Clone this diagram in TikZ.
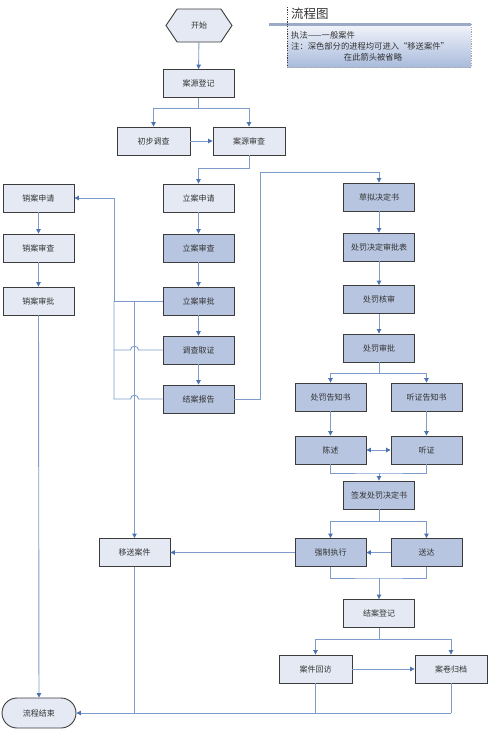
\documentclass[tikz,border=0pt]{standalone}
\usepackage{fontspec}
\setmainfont{Noto Sans CJK SC}
\usetikzlibrary{arrows.meta,shapes.symbols,shapes.misc}
\definecolor{lightfill}{HTML}{E4E9F4}
\definecolor{darkfill}{HTML}{B7C5E0}
\definecolor{linec}{HTML}{7D9BCB}
\definecolor{arrc}{HTML}{4C72B0}
\definecolor{borderc}{HTML}{3C3C3C}
\definecolor{txtc}{HTML}{333333}
\definecolor{gradtop}{HTML}{F2F5FB}
\definecolor{gradbot}{HTML}{A9BBDC}
\definecolor{barc}{HTML}{9CAAC8}
\begin{document}
\begin{tikzpicture}[x=1pt,y=-1pt,
  base/.style={draw=borderc,line width=0.9pt,text=txtc,font=\fontsize{8}{9}\selectfont,
    minimum width=71pt,minimum height=28pt,inner sep=1pt},
  lightbox/.style={base,rectangle,fill=lightfill},
  darkbox/.style={base,rectangle,fill=darkfill},
  conn/.style={draw=linec,line width=0.9pt},
  arr/.style={conn,-{Triangle[width=4.5pt,length=4.5pt,color=arrc]}},
  darr/.style={conn,{Triangle[width=4.5pt,length=4.5pt,color=arrc]}-{Triangle[width=4.5pt,length=4.5pt,color=arrc]}},
  note/.style={text=txtc,font=\fontsize{8.3}{9}\selectfont,inner sep=0pt}
]
\useasboundingbox (0,0) rectangle (490,732);
% title block
\shade[top color=gradtop,bottom color=gradbot] (287,24) rectangle (471,67);
\draw[gray!70,dash pattern=on 1.2pt off 1.2pt,line width=0.7pt] (287,67) -- (471,67) -- (471,24);
\draw[draw=barc,line width=3pt] (269,24) -- (471,24);
\draw[borderc,dash pattern=on 1.2pt off 1.2pt,line width=0.8pt] (287,7) -- (287,67);
\node[anchor=west,text=txtc,font=\fontsize{12.5}{13}\selectfont,inner sep=0pt] (title) at (291,14) {流程图};
\node[note,anchor=west] (n1) at (291,35) {执法——一般案件};
\node[note,anchor=west] (n2) at (291,46.5) {注：深色部分的进程均可进入“移送案件”};
\node[note] (n3) at (373,57.5) {在此箭头被省略};

% nodes
\node[base,signal,signal to=west and east,signal pointer angle=112,fill=lightfill,minimum width=66pt,minimum height=33pt] (start) at (199,25.5) {开始};
\node[lightbox] (ay) at (198.5,83.5) {案源登记};
\node[lightbox,minimum width=73pt] (cb) at (153.5,141) {初步调查};
\node[lightbox,minimum width=72pt] (as) at (249,141) {案源审查};
\node[lightbox] (la1) at (198.5,198) {立案申请};
\node[darkbox] (la2) at (198.5,248) {立案审查};
\node[darkbox] (la3) at (198.5,301) {立案审批};
\node[darkbox] (dc) at (198.5,350) {调查取证};
\node[darkbox] (ja) at (198.5,399) {结案报告};
\node[lightbox] (xa1) at (38.5,198) {销案申请};
\node[lightbox] (xa2) at (38.5,248) {销案审查};
\node[lightbox] (xa3) at (38.5,301) {销案审批};
\node[lightbox] (ys) at (134.5,552.5) {移送案件};
\node[base,rounded rectangle,fill=lightfill,minimum width=76pt,minimum height=30pt] (end) at (39,713) {流程结束};
\node[darkbox] (cn) at (379,197) {草拟决定书};
\node[darkbox] (cf) at (379,247) {处罚决定审批表};
\node[darkbox] (hs) at (379,299.5) {处罚核审};
\node[darkbox] (sp) at (379,348) {处罚审批};
\node[darkbox] (gz) at (330.5,397) {处罚告知书};
\node[darkbox] (tz) at (426.5,397) {听证告知书};
\node[darkbox] (cs) at (330.5,450) {陈述};
\node[darkbox] (tg) at (426.5,450) {听证};
\node[darkbox] (qf) at (379,495) {签发处罚决定书};
\node[darkbox] (qz) at (330.5,552.5) {强制执行};
\node[darkbox] (sd) at (426.5,552.5) {送达};
\node[lightbox] (jd) at (379,613.5) {结案登记};
\node[lightbox,minimum width=73pt] (hf) at (315.5,669) {案件回访};
\node[lightbox,minimum width=72pt] (gd) at (451,669) {案卷归档};

% coordinates
\coordinate (b1) at (198.5,108);
\coordinate (b2) at (249,168);
\coordinate (k1) at (114,301);
\coordinate (k2) at (134.5,301);
\coordinate (r1) at (260,399);
\coordinate (r2) at (260,172);
\coordinate (b3) at (379,373);
\coordinate (b4) at (379,473);
\coordinate (b5) at (379,521);
\coordinate (b6) at (379,578);
\coordinate (b7) at (379,639);
\coordinate (e1) at (451,713);

% connectors
\draw[arr] (start) -- (ay);
\draw[conn] (ay) -- (b1);
\draw[arr] (b1) -| (cb.north);
\draw[arr] (b1) -| (as.north);
\draw[arr] (cb) -- (as);
\draw[arr] (as.south) |- (b2) -| (la1.north);
\draw[arr] (la1) -- (la2);
\draw[arr] (la2) -- (la3);
\draw[arr] (la3) -- (dc);
\draw[arr] (dc) -- (ja);
\draw[arr] (la3.west) -- (k1) |- (xa1.east);
\draw[arr] (k2) -- (ys.north);
\draw[conn] (dc.west) -- (138.5,350) .. controls (138.5,345) and (130.5,345) .. (130.5,350) -- (114,350) -- (k1);
\draw[conn] (ja.west) -- (138.5,399) .. controls (138.5,394) and (130.5,394) .. (130.5,399) -- (114,399) -- (114,350);
\draw[arr] (ja.east) -- (r1) -- (r2) -| (cn.north);
\draw[arr] (xa1) -- (xa2);
\draw[arr] (xa2) -- (xa3);
\draw[arr] (xa3) -- (end);
\draw[arr] (cn) -- (cf);
\draw[arr] (cf) -- (hs);
\draw[arr] (hs) -- (sp);
\draw[conn] (sp) -- (b3);
\draw[arr] (b3) -| (gz.north);
\draw[arr] (b3) -| (tz.north);
\draw[arr] (gz) -- (cs);
\draw[arr] (tz) -- (tg);
\draw[darr] (cs) -- (tg);
\draw[conn] (cs.south) |- (b4) -| (tg.south);
\draw[arr] (b4) -- (qf);
\draw[conn] (qf) -- (b5);
\draw[arr] (b5) -| (qz.north);
\draw[arr] (b5) -| (sd.north);
\draw[arr] (sd) -- (qz);
\draw[arr] (qz) -- (ys);
\draw[conn] (qz.south) |- (b6) -| (sd.south);
\draw[arr] (b6) -- (jd);
\draw[conn] (jd) -- (b7);
\draw[arr] (b7) -| (hf.north);
\draw[arr] (b7) -| (gd.north);
\draw[arr] (hf) -- (gd);
\draw[conn] (gd.south) -- (e1);
\draw[conn] (hf.south) -- (315.5,713);
\draw[conn] (ys.south) -- (134.5,713);
\draw[arr] (e1) -- (end.east);
\end{tikzpicture}
\end{document}
